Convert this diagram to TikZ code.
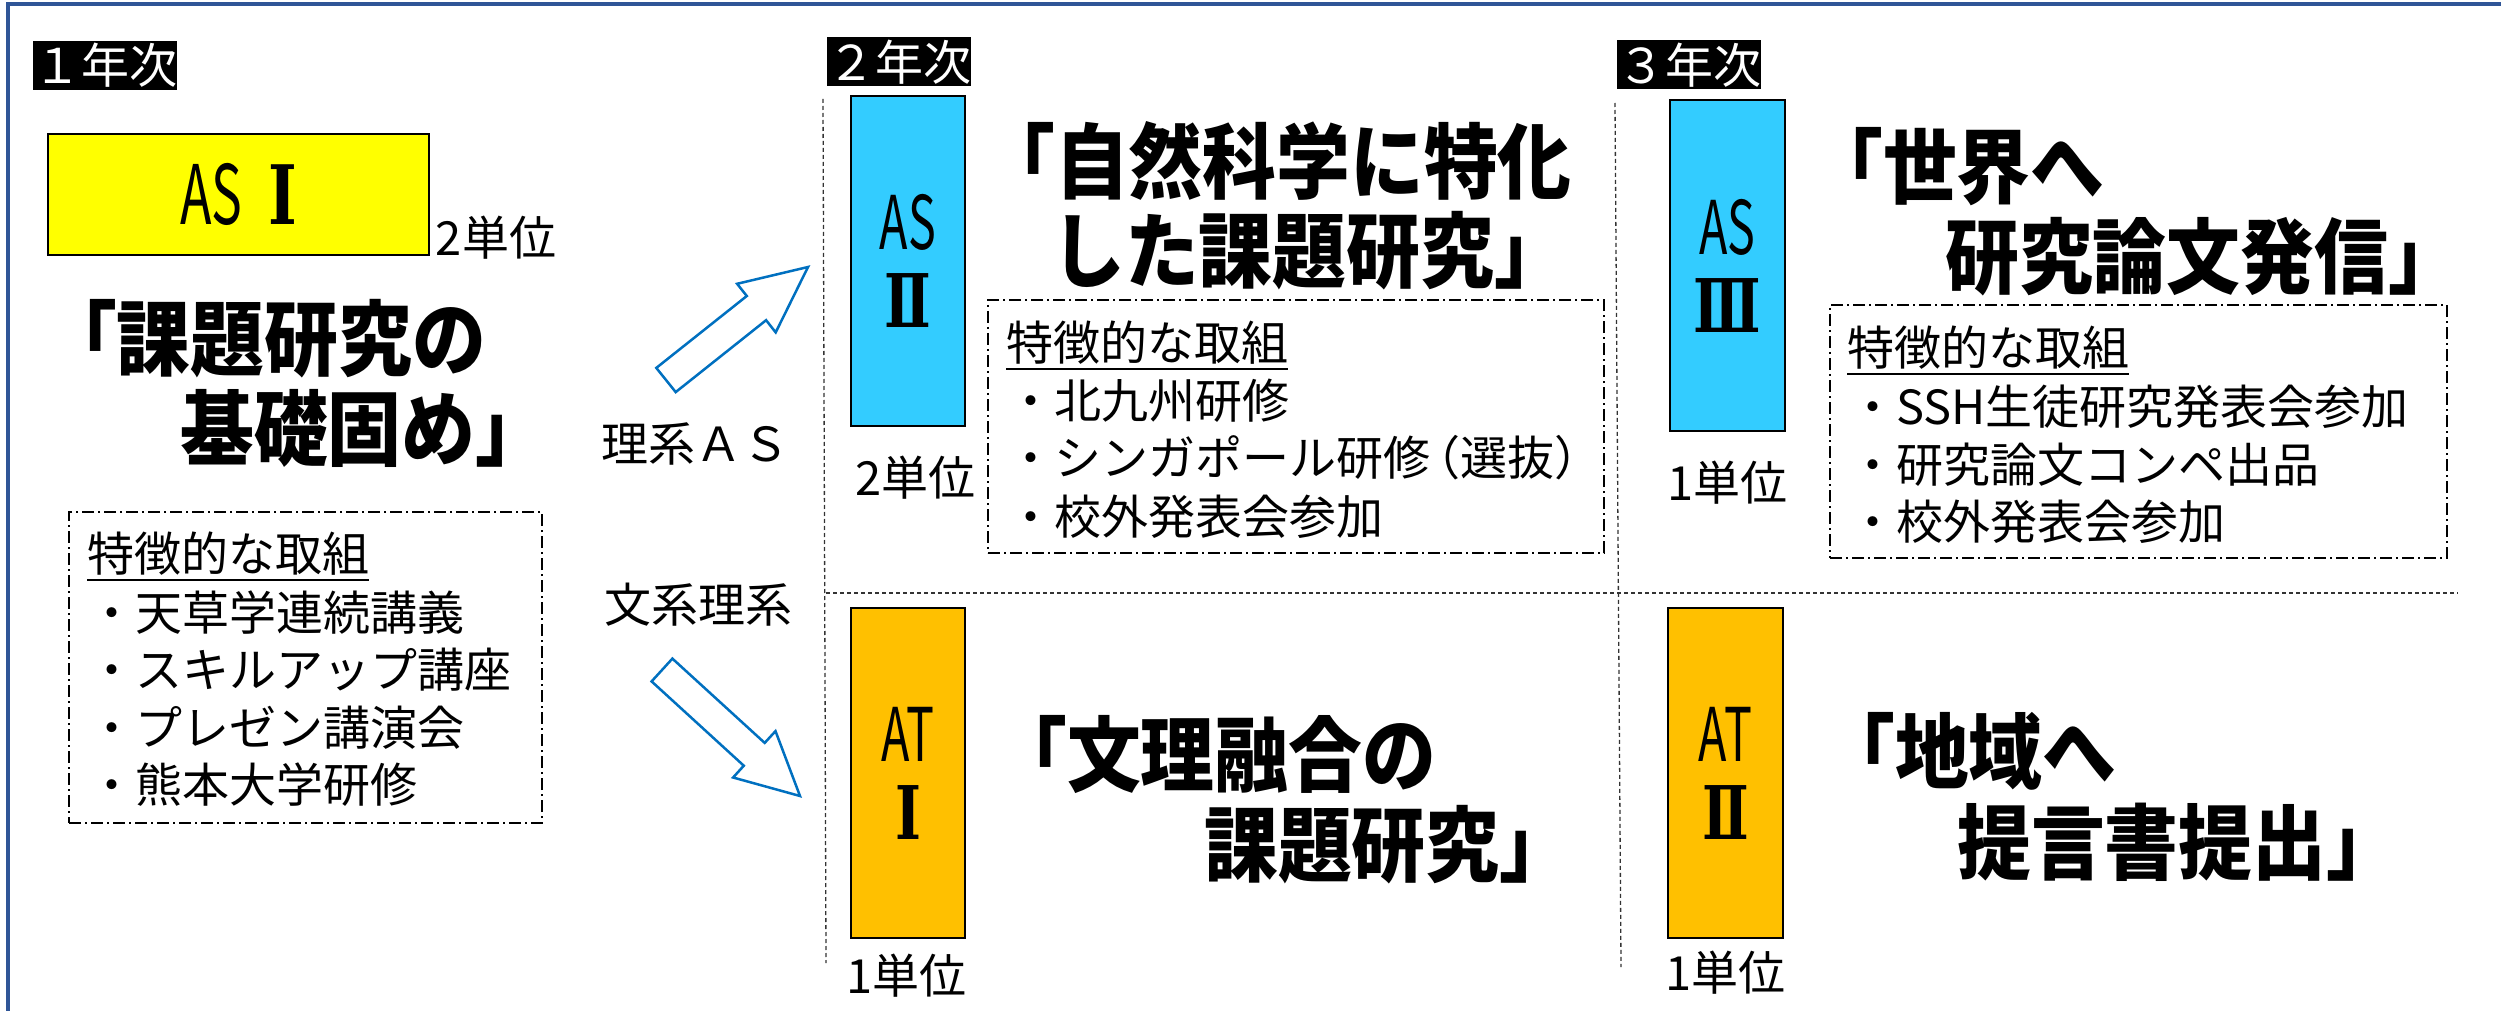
\documentclass[tikz,border=0pt]{standalone}
\usepackage{fontspec}
\setmainfont{Noto Sans CJK JP}
\newfontfamily\jp{Noto Sans CJK JP}
\newfontfamily\jptitle[FakeStretch=0.9]{Noto Sans CJK JP}
\newfontfamily\jplabel[FakeStretch=0.63]{Noto Sans CJK JP}
\newfontfamily\romnum[FakeStretch=0.75]{DejaVu Serif}
\definecolor{framec}{HTML}{2F5597}
\definecolor{arrowc}{HTML}{0070C0}
\definecolor{asyellow}{HTML}{FFFF00}
\definecolor{ascyan}{HTML}{33CCFF}
\definecolor{atorange}{HTML}{FFC000}
\tikzset{
  yearlabel/.style={fill=black,text=white,inner sep=0pt,minimum width=144pt,minimum height=49pt,font=\jp\fontsize{48}{48}\selectfont},
  coursebox/.style={draw=black,line width=2pt,inner sep=0pt,align=center,font=\jplabel\fontsize{74}{78}\selectfont},
  titleline/.style={anchor=west,inner sep=0pt,font=\jptitle\bfseries\fontsize{82}{82}\selectfont},
  itemline/.style={anchor=west,inner sep=0pt,font=\jp\fontsize{47}{47}\selectfont},
  unitlabel/.style={inner sep=0pt,font=\jp\fontsize{47}{47}\selectfont},
  featbox/.style={draw=black,line width=1.5pt,dash pattern=on 12pt off 4pt on 2pt off 4pt,inner sep=0pt},
  gridline/.style={draw=black!80,line width=1.3pt,dash pattern=on 4pt off 3pt},
  blockarrow/.style={draw=arrowc,fill=white,line width=2.5pt,line join=miter},
  uline/.style={line width=2pt}
}
\newcommand{\rnum}[1]{{\romnum\bfseries #1}}
\begin{document}
\begin{tikzpicture}[x=1pt,y=-1pt]
\useasboundingbox (0,0) rectangle (2501,1011);
\fill[white] (0,0) rectangle (2501,1011);
% frame (top and left edges visible)
\draw[framec,line width=3.5pt] (8,1011) -- (8,4) -- (2501,4);

% grid lines
\coordinate (v1a) at (823,99); \coordinate (v1b) at (826,963);
\coordinate (v2a) at (1615,103); \coordinate (v2b) at (1621,967);
\coordinate (h1a) at (826,593); \coordinate (h1b) at (2458,593);
\draw[gridline] (v1a) -- (v1b);
\draw[gridline] (v2a) -- (v2b);
\draw[gridline] (h1a) -- (h1b);

% year labels
\node[yearlabel] (y1) at (105,65.5) {１年次};
\node[yearlabel] (y2) at (899,62) {２年次};
\node[yearlabel] (y3) at (1689,65) {３年次};

% course boxes
\node[coursebox,fill=asyellow,minimum width=381pt,minimum height=121pt,font=\jplabel\fontsize{82}{82}\selectfont] (as1) at (238.5,194.5) {AS\hspace{26pt}\rnum{Ⅰ}};
\node[coursebox,fill=ascyan,minimum width=114pt,minimum height=330pt] (as2) at (908,261) {AS\\\rnum{Ⅱ}};
\node[coursebox,fill=ascyan,minimum width=115pt,minimum height=331pt] (as3) at (1727.5,265.5) {AS\\\rnum{Ⅲ}};
\node[coursebox,fill=atorange,minimum width=114pt,minimum height=330pt] (at1) at (908,773) {AT\\\rnum{Ⅰ}};
\node[coursebox,fill=atorange,minimum width=115pt,minimum height=330pt] (at2) at (1725.5,773) {AT\\\rnum{Ⅱ}};

% unit labels
\node[unitlabel] (u1) at (496,237.5) {2単位};
\node[unitlabel] (u2) at (915.5,478) {2単位};
\node[unitlabel] (u3) at (1727.5,483) {1単位};
\node[unitlabel] (u4) at (906.5,976) {1単位};
\node[unitlabel] (u5) at (1725.5,972.5) {1単位};

% titles
\node[titleline] (t1a) at (43,339) {「課題研究の};
\node[titleline] (t1b) at (180,428) {基礎固め」};
\node[titleline] (t2a) at (981,161) {「自然科学に特化};
\node[titleline] (t2b) at (1051,251) {した課題研究」};
\node[titleline] (t3a) at (993,754) {「文理融合の};
\node[titleline] (t3b) at (1204,845) {課題研究」};
\node[titleline] (t4a) at (1809,167) {「世界へ};
\node[titleline] (t4b) at (1945,257) {研究論文発信」};
\node[titleline] (t5a) at (1821,751) {「地域へ};
\node[titleline] (t5b) at (1957,842) {提言書提出」};

% feature boxes
\node[featbox,minimum width=473pt,minimum height=311pt] (f1) at (305.5,667.5) {};
\node[featbox,minimum width=616pt,minimum height=253pt] (f2) at (1296,426.5) {};
\node[featbox,minimum width=617pt,minimum height=253pt] (f3) at (2138.5,431.5) {};

\node[itemline] (f1h) at (87,554) {特徴的な取組};
\draw[uline] ([yshift=-4pt]f1h.south west) -- ([yshift=-4pt]f1h.south east);
\node[itemline] (f1i1) at (88,613) {・天草学連続講義};
\node[itemline] (f1i2) at (88,670) {・スキルアップ講座};
\node[itemline] (f1i3) at (88,728) {・プレゼン講演会};
\node[itemline] (f1i4) at (88,785) {・熊本大学研修};

\node[itemline] (f2h) at (1006,343) {特徴的な取組};
\draw[uline] ([yshift=-4pt]f2h.south west) -- ([yshift=-4pt]f2h.south east);
\node[itemline] (f2i1) at (1007,401) {・北九州研修};
\node[itemline] (f2i2) at (1007,458) {・シンガポール研修\kern-0.35em（選抜）};
\node[itemline] (f2i3) at (1007,517) {・校外発表会参加};

\node[itemline] (f3h) at (1847,348) {特徴的な取組};
\draw[uline] ([yshift=-4pt]f3h.south west) -- ([yshift=-4pt]f3h.south east);
\node[itemline] (f3i1) at (1849,407) {・SSH生徒研究発表会参加};
\node[itemline] (f3i2) at (1849,465) {・研究論文コンペ出品};
\node[itemline] (f3i3) at (1849,522) {・校外発表会参加};

% track labels
\node[unitlabel] (la) at (695,444) {理系ＡＳ};
\node[unitlabel] (lb) at (698,604.5) {文系理系};

% block arrows
\coordinate (upTail) at (666,380); \coordinate (upTip) at (808,267);
\draw[blockarrow] (675.7,392.1) -- (766.1,320.2) -- (775.7,332.4) -- (upTip)
  -- (737.1,283.8) -- (746.8,296.0) -- (656.3,367.9) -- cycle;
\coordinate (dnTail) at (662,670); \coordinate (dnTip) at (800,796);
\draw[blockarrow] (672.4,658.6) -- (764.7,742.9) -- (775.5,731.1) -- (dnTip)
  -- (733.1,777.5) -- (743.8,765.7) -- (651.6,681.4) -- cycle;
\end{tikzpicture}
\end{document}
